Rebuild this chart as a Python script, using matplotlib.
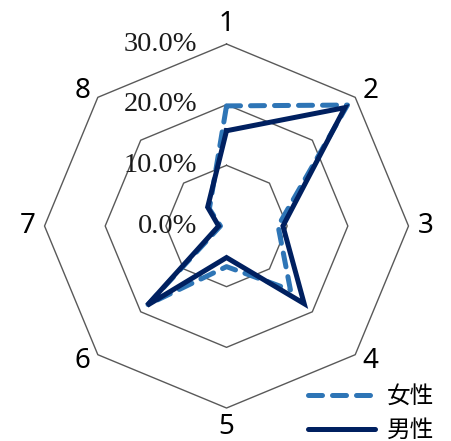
import numpy as np
import matplotlib
matplotlib.use("Agg")
import matplotlib.pyplot as plt
from matplotlib.lines import Line2D
from matplotlib.transforms import ScaledTranslation

categories = ["1", "2", "3", "4", "5", "6", "7", "8"]
female = [19.8, 28.2, 8.5, 14.9, 6.7, 18.3, 1.0, 4.0]
male = [15.7, 27.6, 9.3, 18.1, 5.2, 18.5, 1.3, 4.4]
series_names = ["女性", "男性"]
r_ticks = [0, 10, 20, 30]
r_tick_labels = ["0.0%", "10.0%", "20.0%", "30.0%"]

DPI = 100
fig = plt.figure(figsize=(4.52, 4.41), dpi=DPI)
ax = fig.add_axes([0.0985, 0.0748, 0.8053, 0.8254], projection="polar")
ax.set_theta_zero_location("N")
ax.set_theta_direction(-1)
ax.set_ylim(0, 30)
ax.grid(False)
ax.spines["polar"].set_visible(False)
ax.set_xticks([])
ax.set_yticks([])
ax.patch.set_alpha(0)

n = len(categories)
angles = np.arange(n) * 2 * np.pi / n
closed = np.append(angles, angles[0])

# octagon gridlines
for v in r_ticks[1:]:
    ax.plot(closed, [v] * (n + 1), color="#595959", lw=1.0, zorder=1, clip_on=False)

# data
dash = (0, (2.8, 2.0))
f = np.append(female, female[0])
m = np.append(male, male[0])
ax.plot(closed, f, color="#2E75B6", lw=3.6, ls=dash, dash_capstyle="round",
        solid_joinstyle="round", zorder=3, clip_on=False)
ax.plot(closed, m, color="#002060", lw=3.6, solid_joinstyle="miter", zorder=4, clip_on=False)

# radial tick labels
for v, lab in zip(r_ticks, r_tick_labels):
    ax.annotate(lab, xy=(0, v), xytext=(-21.0, 0), textcoords="offset points",
                ha="right", va="center", fontsize=20.5, family="Liberation Serif",
                color="#1a1a1a", zorder=5)

# category labels (pixel offsets from the outer octagon vertices)
label_offsets_px = [(0, 20), (15, 6), (17, 0), (15, -6), (0, -19), (-15, -6), (-17, 0), (-15, 6)]
for a, lab, (dx, dy) in zip(angles, categories, label_offsets_px):
    tr = ax.transData + ScaledTranslation(dx / DPI, dy / DPI, fig.dpi_scale_trans)
    ax.text(a, 30, lab, transform=tr, ha="center", va="center", fontsize=20,
            family="Noto Sans", color="black")

handles = [Line2D([], [], color="#2E75B6", lw=3.6, ls=dash, dash_capstyle="round"),
           Line2D([], [], color="#002060", lw=3.6, solid_capstyle="round")]
leg = fig.legend(handles, series_names, loc="center left",
                 bbox_to_anchor=(308 / 452, 27.5 / 441),
                 frameon=False, prop={"family": "Noto Sans CJK JP", "size": 17},
                 handlelength=2.85, handletextpad=0.5, labelspacing=0.45,
                 borderpad=0, borderaxespad=0)

fig.savefig("out.png", dpi=DPI)
